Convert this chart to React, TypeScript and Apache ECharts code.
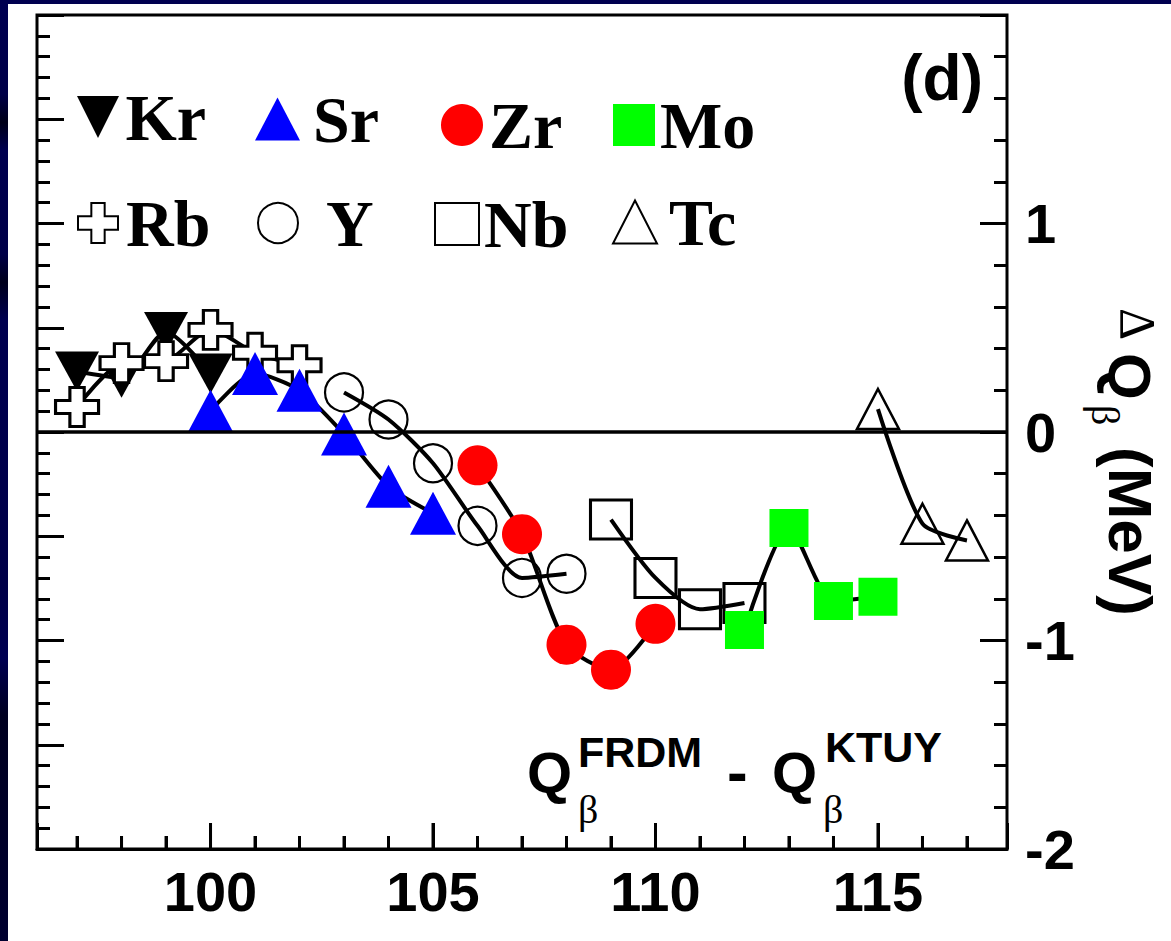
import { useEffect, useRef } from 'react';
import * as echarts from 'echarts';

// ---------- axis ranges & ticks ----------
const X_MIN = 96.1;
const X_MAX = 117.9;
const Y_MIN = -2;
const Y_MAX = 2;
const Y_MAJOR_STEP = 1; // labelled right axis: -2, -1, 0, 1
const Y_LEFT_STEP = 0.5; // unlabelled left axis
const xMajorTicks = [100, 105, 110, 115];
const xMinorTicks = [97, 98, 99, 101, 102, 103, 104, 106, 107, 108, 109, 111, 112, 113, 114, 116, 117];

// ---------- data (mass number A, ΔQβ in MeV) ----------
const krA = [97, 98, 99, 100];
const krDQ = [0.29, 0.26, 0.48, 0.28];
const rbA = [97, 98, 99, 100, 101, 102];
const rbDQ = [0.12, 0.33, 0.34, 0.49, 0.38, 0.32];
const srA = [100, 101, 102, 103, 104, 105];
const srDQ = [0.1, 0.28, 0.2, -0.01, -0.26, -0.39];
const yA = [103, 104, 105, 106, 107, 108];
const yDQ = [0.19, 0.06, -0.15, -0.45, -0.7, -0.68];
const zrA = [106, 107, 108, 109, 110];
const zrDQ = [-0.16, -0.49, -1.02, -1.14, -0.92];
const nbA = [109, 110, 111, 112];
const nbDQ = [-0.42, -0.7, -0.85, -0.82];
const moA = [112, 113, 114, 115];
const moDQ = [-0.95, -0.46, -0.81, -0.79];
const tcA = [115, 116, 117];
const tcDQ = [0.11, -0.44, -0.52];

// plot frame
const GRID_LEFT = 37;
const GRID_TOP = 15;
const GRID_W = 970;
const GRID_H = 834;

const SANS = '"Liberation Sans", Arial, Helvetica, sans-serif';
const SERIF = '"Liberation Serif", "Times New Roman", serif';

const DOWN_TRI = 'path://M0,0L10,0L5,10Z';
const CROSS = 'path://M10,0L20,0L20,10L30,10L30,20L20,20L20,30L10,30L10,20L0,20L0,10L10,10Z';
const CLEAR = 'rgba(0,0,0,0)';

const elements = [
  { name: 'Kr', a: krA, dq: krDQ, symbol: DOWN_TRI, size: [44, 40], fill: '#000000', stroke: '#000000', bw: 0 },
  { name: 'Rb', a: rbA, dq: rbDQ, symbol: CROSS, size: [43, 39], fill: '#ffffff', stroke: '#000000', bw: 3 },
  { name: 'Sr', a: srA, dq: srDQ, symbol: 'triangle', size: [46, 43], fill: '#0000ff', stroke: '#0000ff', bw: 0 },
  { name: 'Y', a: yA, dq: yDQ, symbol: 'circle', size: [38, 38], fill: CLEAR, stroke: '#000000', bw: 2.2 },
  { name: 'Zr', a: zrA, dq: zrDQ, symbol: 'circle', size: [40, 40], fill: '#ff0000', stroke: '#ff0000', bw: 0 },
  { name: 'Nb', a: nbA, dq: nbDQ, symbol: 'rect', size: [41, 39], fill: CLEAR, stroke: '#000000', bw: 3 },
  { name: 'Mo', a: moA, dq: moDQ, symbol: 'rect', size: [39, 38], fill: '#00ff00', stroke: '#00ff00', bw: 0 },
  { name: 'Tc', a: tcA, dq: tcDQ, symbol: 'triangle', size: [42, 40], fill: CLEAR, stroke: '#000000', bw: 2.5 },
];

// legend placement: [name, icon, left, top, itemWidth, itemHeight, textGap, iconLift]
const legendLayout: [string, string, number, number, number, number, number, number][] = [
  ['Kr', DOWN_TRI, 77, 76, 45, 42, 5, 16],
  ['Sr', 'triangle', 255, 80, 45, 43, 13, 12],
  ['Zr', 'circle', 441, 92, 42, 42, 6, 0],
  ['Mo', 'rect', 613, 92, 42, 42, 2, 0],
  ['Rb', CROSS, 77, 183, 44, 40, 6, 14],
  ['Y', 'circle', 257, 183, 40, 40, 28, 14],
  ['Nb', 'rect', 434, 185, 44, 42, 2, 12],
  ['Tc', 'triangle', 612, 181, 44, 43, 12, 16],
];

const pairs = (xs: number[], ys: number[]) => xs.map((x, i) => [x, ys[i]]);

function txt(text: string, x: number, baseline: number, size: number, family: string, weight: string, align = 'left') {
  const k = family === SERIF ? 0.3375 : 0.3465;
  return {
    type: 'text',
    x,
    y: baseline - k * size,
    silent: true,
    style: {
      text,
      fill: '#000',
      fontSize: size,
      fontFamily: family,
      fontWeight: weight,
      textAlign: align,
      verticalAlign: 'middle',
      textVerticalAlign: 'middle',
    },
  };
}

// x tick marks as thin filled bars, placed by the same linear map as the x axis
function tickRects(values: number[], len: number) {
  const bottom = GRID_TOP + GRID_H;
  return values.map((v) => {
    const px = GRID_LEFT + ((v - X_MIN) / (X_MAX - X_MIN)) * GRID_W;
    return {
      type: 'rect',
      silent: true,
      z: 100,
      shape: { x: px - 1.5, y: bottom - len, width: 3, height: len },
      style: { fill: '#000' },
    };
  });
}

export default function App() {
  const ref = useRef<HTMLDivElement>(null);
  useEffect(() => {
    if (!ref.current) return;
    const chart = echarts.init(ref.current, undefined, { renderer: 'svg' });

    const series: any[] = [];
    elements.forEach((el, i) => {
      const line: any = {
        type: 'line',
        name: el.name + ' line',
        data: pairs(el.a, el.dq),
        xAxisIndex: 0,
        yAxisIndex: 0,
        symbol: 'none',
        smooth: 0.25,
        silent: true,
        z: 2,
        lineStyle: { color: '#000', width: 4 },
      };
      if (i === 0) {
        line.markLine = {
          silent: true,
          symbol: ['none', 'none'],
          label: { show: false },
          lineStyle: { color: '#000', width: 3.5, type: 'solid' },
          data: [{ yAxis: 0 }],
        };
      }
      series.push(line);
    });
    elements.forEach((el) => {
      series.push({
        type: 'scatter',
        name: el.name,
        data: pairs(el.a, el.dq),
        xAxisIndex: 0,
        yAxisIndex: 0,
        symbol: el.symbol,
        symbolSize: el.size,
        silent: true,
        z: 3,
        itemStyle: { color: el.fill, borderColor: el.stroke, borderWidth: el.bw, opacity: 1 },
      });
    });

    const legends = legendLayout.map(([name, icon, left, top, w, h, gap, lift]) => ({
      data: [{ name, icon }],
      left,
      top,
      padding: 0,
      itemWidth: w,
      itemHeight: h,
      selectedMode: false,
      textStyle: {
        fontFamily: SERIF,
        fontWeight: 'bold',
        fontSize: 66,
        color: '#000',
        lineHeight: 66,
        padding: [lift, 0, 0, Math.max(0, gap - 5)],
      },
    }));

    const tickStyle = { color: '#000', width: 3 };
    const labelFont = { fontFamily: SANS, fontWeight: 'bold', fontSize: 56, color: '#000' };
    const hidden = { show: false };

    const graphics: any[] = [
      {
        type: 'rect',
        silent: true,
        shape: { x: 0, y: 0, width: 8, height: 941 },
        style: {
          fill: {
            type: 'linear', x: 0, y: 0, x2: 0, y2: 1,
            colorStops: [
              { offset: 0, color: '#000052' },
              { offset: 0.1, color: '#000048' },
              { offset: 0.13, color: '#000018' },
              { offset: 0.16, color: '#000050' },
              { offset: 0.27, color: '#000048' },
              { offset: 0.3, color: '#00001c' },
              { offset: 0.34, color: '#000050' },
              { offset: 0.62, color: '#000048' },
              { offset: 0.7, color: '#000052' },
              { offset: 0.76, color: '#000020' },
              { offset: 1, color: '#000030' },
            ],
          },
        },
      },
      { type: 'rect', silent: true, shape: { x: 0, y: 0, width: 1171, height: 4 }, style: { fill: '#000050' } },
      ...tickRects(xMajorTicks, 26),
      ...tickRects(xMinorTicks, 13),
      txt('(d)', 983, 100, 64, SANS, 'bold', 'right'),
      txt('Q', 527, 793, 58, SANS, 'bold'),
      txt('FRDM', 578, 767, 43, SANS, 'bold'),
      txt('β', 578, 823, 40, SERIF, 'normal'),
      txt('-', 727, 793, 62, SANS, 'bold'),
      txt('Q', 772, 793, 58, SANS, 'bold'),
      txt('KTUY', 825, 762, 43, SANS, 'bold'),
      txt('β', 823, 823, 40, SERIF, 'normal'),
      {
        type: 'group',
        x: 1109,
        y: 300,
        rotation: -Math.PI / 2,
        silent: true,
        children: [
          txt('Δ', 8, -12, 50, SERIF, 'normal'),
          txt('Q', 53, 0, 60, SANS, 'bold'),
          txt('β', 105, 17, 40, SERIF, 'normal'),
          txt('(MeV)', 147, 0, 62, SANS, 'bold'),
        ],
      },
    ];

    const option: any = {
      animation: false,
      backgroundColor: '#ffffff',
      textStyle: { fontFamily: SANS },
      grid: {
        left: GRID_LEFT,
        top: GRID_TOP,
        width: GRID_W,
        height: GRID_H,
        show: true,
        borderColor: '#000',
        borderWidth: 3,
        backgroundColor: 'transparent',
      },
      legend: legends,
      xAxis: {
        type: 'value',
        min: X_MIN,
        max: X_MAX,
        splitNumber: 5,
        position: 'bottom',
        axisLine: { show: true, onZero: false, lineStyle: { color: '#000', width: 3 } },
        splitLine: hidden,
        axisTick: { show: true, inside: true, length: 26, lineStyle: tickStyle },
        minorTick: { show: true, splitNumber: 5, length: 13, lineStyle: tickStyle },
        minorSplitLine: hidden,
        axisLabel: { ...labelFont, margin: 14, showMinLabel: false, showMaxLabel: false },
      },
      yAxis: [
        {
          type: 'value',
          min: Y_MIN,
          max: Y_MAX,
          interval: Y_MAJOR_STEP,
          position: 'right',
          axisLine: hidden,
          splitLine: hidden,
          axisTick: { show: true, inside: true, length: 27, lineStyle: tickStyle },
          minorTick: { show: true, splitNumber: 5, length: 13, lineStyle: tickStyle },
          minorSplitLine: hidden,
          axisLabel: { ...labelFont, margin: 18, showMaxLabel: false },
        },
        {
          type: 'value',
          min: Y_MIN,
          max: Y_MAX,
          interval: Y_LEFT_STEP,
          position: 'left',
          axisLine: hidden,
          splitLine: hidden,
          axisTick: { show: true, inside: true, length: 27, lineStyle: tickStyle },
          minorTick: { show: true, splitNumber: 5, length: 13, lineStyle: tickStyle },
          minorSplitLine: hidden,
          axisLabel: hidden,
        },
      ],
      graphic: graphics,
      series,
    };

    chart.setOption(option);
    return () => chart.dispose();
  }, []);

  return (
    <div
      ref={ref}
      style={{ position: 'fixed', left: 0, top: 0, width: 1171, height: 941 }}
    />
  );
}
